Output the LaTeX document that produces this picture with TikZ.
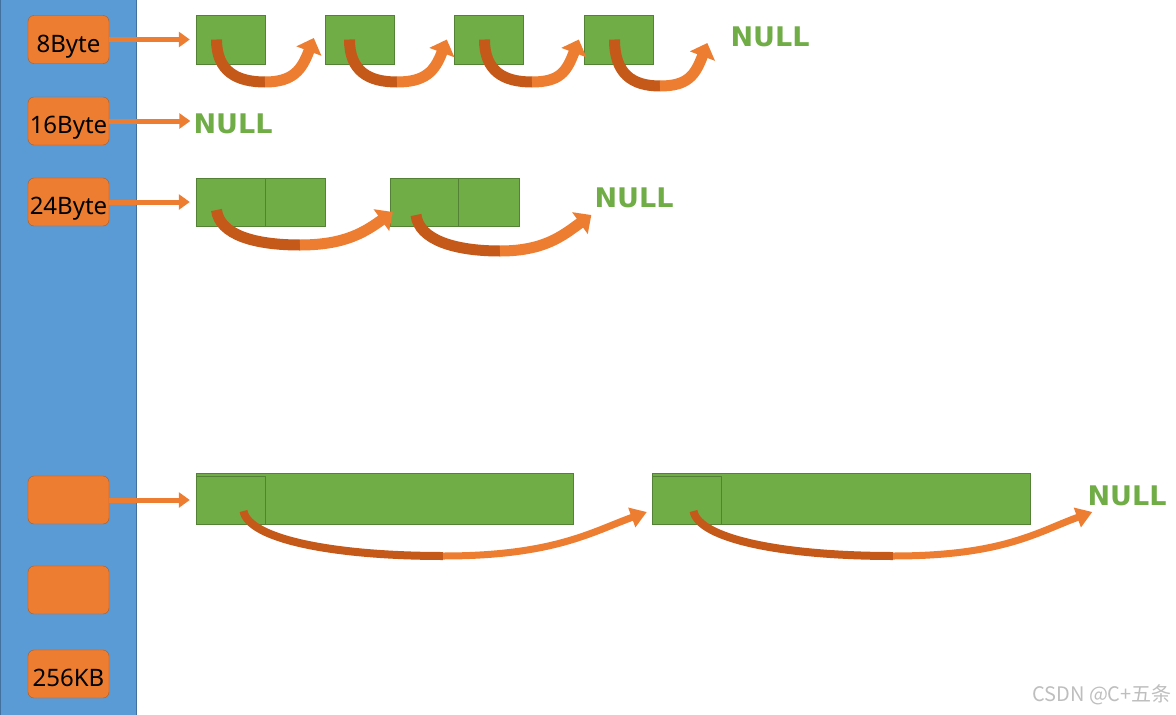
\documentclass[tikz,border=0pt]{standalone}
\usepackage{fontspec}
\setmainfont{Noto Sans}
\newfontfamily\grasfont{DejaVu Sans}
\newfontfamily\cjkfont{Noto Sans CJK SC}
\usepackage{tikz}
\usetikzlibrary{arrows.meta}
\definecolor{bleucol}{RGB}{91,155,213}
\definecolor{bleuborder}{RGB}{65,113,156}
\definecolor{orangebox}{RGB}{237,125,49}
\definecolor{orangeborder}{RGB}{174,90,33}
\definecolor{orangefonce}{RGB}{196,89,25}
\definecolor{vert}{RGB}{112,173,71}
\definecolor{vertborder}{RGB}{84,130,53}
\definecolor{gris}{RGB}{190,190,190}

\begin{document}
\begin{tikzpicture}[x=1pt, y=-1pt,
    colonne/.style={draw=bleuborder, fill=bleucol, minimum width=136pt,
        minimum height=717pt, inner sep=0pt},
    taille/.style={draw=orangeborder, fill=orangebox, rounded corners=6pt,
        minimum width=81pt, minimum height=48pt, inner sep=0pt,
        text height=25pt, text depth=0pt, font=\fontsize{24}{28}\selectfont},
    bloc/.style={draw=vertborder, fill=vert, minimum width=69pt,
        minimum height=49pt, inner sep=0pt},
    nul/.style={text=vert, font=\grasfont\bfseries\fontsize{27}{30}\selectfont,
        inner sep=0pt, text depth=0pt},
    fleche/.style={draw=orangebox, line width=5pt, -{Triangle[length=11pt,width=15pt]}},
    descente/.style={draw=orangefonce, line width=11pt},
    courbe/.style={draw=orangebox, line width=11pt, -{Triangle[length=14pt,width=26pt]}},
    ]
    \useasboundingbox (0,0) rectangle (1176,715);

    % colonne des tailles
    \node[colonne] (col) at (68,357.5) {};
    \node[taille] (b8) at (68.5,39.5) {8Byte};
    \node[taille] (b16) at (68.5,121) {16Byte};
    \node[taille] (b24) at (68.5,202) {24Byte};
    \node[taille] (bx1) at (68.5,500) {};
    \node[taille] (bx2) at (68.5,590) {};
    \node[taille] (b256) at (68.5,674) {256KB};

    % blocs 8Byte
    \node[bloc] (a1) at (230.5,39.5) {};
    \node[bloc] (a2) at (359.5,39.5) {};
    \node[bloc] (a3) at (488.5,39.5) {};
    \node[bloc] (a4) at (618.5,39.5) {};
    \node[nul] (n1) at (770,37) {NULL};

    % 16Byte
    \node[nul] (n2) at (233,124) {NULL};

    % blocs 24Byte
    \node[bloc, minimum height=48pt] (c1) at (230.5,202) {};
    \node[bloc, minimum width=60pt, minimum height=48pt] (c1b) at (295,202) {};
    \node[bloc, minimum width=68pt, minimum height=48pt] (c2) at (424,202) {};
    \node[bloc, minimum width=61pt, minimum height=48pt] (c2b) at (488.5,202) {};
    \node[nul] (n3) at (634,198) {NULL};

    % grands blocs
    \node[bloc, minimum width=377pt, minimum height=51pt] (g1) at (384.5,498.5) {};
    \node[bloc, minimum height=48pt] (g1a) at (230.5,500) {};
    \node[bloc, minimum width=378pt, minimum height=51pt] (g2) at (841,498.5) {};
    \node[bloc, minimum height=48pt] (g2a) at (686.5,500) {};
    \node[nul] (n4) at (1127,496) {NULL};

    \node[text=gris, font=\cjkfont\fontsize{20}{24}\selectfont, anchor=east,
        inner sep=0pt] (wm) at (1172,695) {CSDN @C+五条};

    % fleches des tailles
    \draw[fleche, shorten >=6pt] (b8.east) -- (a1.west);
    \draw[fleche, shorten >=3pt] (b16.east) -- (b16.east -| n2.west);
    \draw[fleche, shorten >=6pt] (b24.east) -- (c1.west);
    \draw[fleche, shorten >=6pt] (bx1.east) -- (bx1.east -| g1.west);

    % liens 8Byte
    \coordinate (m1) at (265,82);
    \coordinate (m2) at (397,82);
    \coordinate (m3) at (532,82);
    \coordinate (m4) at (660,86);
    \draw[descente] ([xshift=-14pt]a1.center) .. controls +(0,32) and +(-28,0) .. (m1);
    \draw[courbe] (m1) .. controls +(28,0) and +(-12,32) .. ([xshift=-11pt,yshift=1.5pt]a2.west);
    \draw[descente] ([xshift=-10pt]a2.center) .. controls +(0,32) and +(-28,0) .. (m2);
    \draw[courbe] (m2) .. controls +(28,0) and +(-12,32) .. ([xshift=-7pt]a3.west);
    \draw[descente] ([xshift=-4pt]a3.center) .. controls +(0,32) and +(-28,0) .. (m3);
    \draw[courbe] (m3) .. controls +(28,0) and +(-12,32) .. ([xshift=-5pt]a4.west);
    \draw[descente] ([xshift=-4pt]a4.center) .. controls +(0,34) and +(-28,0) .. (m4);
    \draw[courbe] (m4) .. controls +(28,0) and +(-12,32) .. ([xshift=-23pt,yshift=-6pt]n1.west);

    % liens 24Byte
    \coordinate (m5) at (300,245);
    \coordinate (m6) at (500,251);
    \draw[descente] ([xshift=-14pt,yshift=-8pt]c1.center) .. controls +(3,25) and +(-45,0) .. (m5);
    \draw[courbe] (m5) .. controls +(45,0) and +(-28,20) .. ([xshift=3pt,yshift=-10pt]c2.west);
    \draw[descente] ([xshift=-8pt,yshift=-13pt]c2.center) .. controls +(3,25) and +(-45,0) .. (m6);
    \draw[courbe] (m6) .. controls +(45,0) and +(-28,20) .. ([xshift=-3pt,yshift=-17pt]n3.west);

    % liens grands blocs
    \coordinate (m7) at (443,556);
    \coordinate (m8) at (893,556);
    \draw[descente, line width=8pt] ([xshift=13pt,yshift=-11pt]g1a.center) .. controls +(5,28) and +(-110,0) .. (m7);
    \draw[courbe, line width=7pt, -{Triangle[length=16pt,width=20pt]}] (m7) .. controls +(110,0) and +(-55,20) .. ([xshift=-5pt,yshift=-13.5pt]g2.west);
    \draw[descente, line width=8pt] ([xshift=7pt,yshift=-11pt]g2a.center) .. controls +(5,28) and +(-110,0) .. (m8);
    \draw[courbe, line width=7pt, -{Triangle[length=16pt,width=20pt]}] (m8) .. controls +(110,0) and +(-55,20) .. ([xshift=5pt,yshift=-16pt]n4.west);
\end{tikzpicture}
\end{document}
